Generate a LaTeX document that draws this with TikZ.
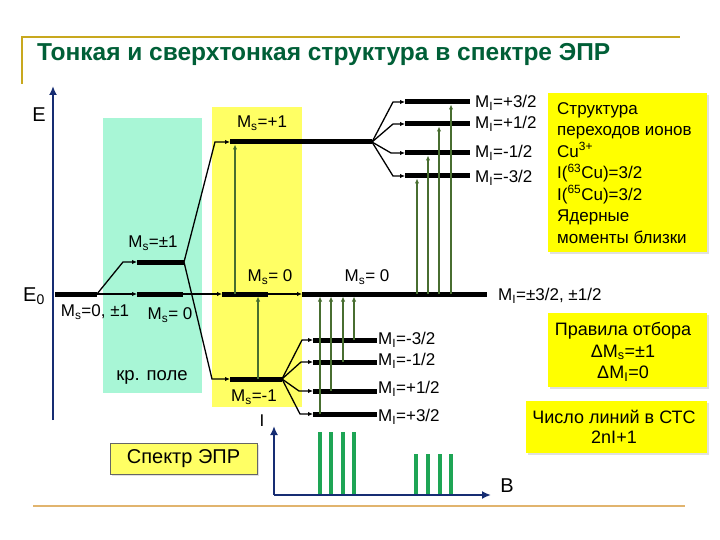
\documentclass[tikz,border=0pt]{standalone}
\usepackage{fontspec}
\setmainfont{Liberation Sans}
\usetikzlibrary{arrows.meta}
\definecolor{titlegreen}{RGB}{0,95,55}
\definecolor{framegold}{RGB}{200,168,30}
\definecolor{frametan}{RGB}{225,180,110}
\definecolor{axisnavy}{RGB}{22,45,115}
\definecolor{arrowgreen}{RGB}{72,110,48}
\definecolor{specgreen}{RGB}{30,165,85}
\definecolor{mint}{RGB}{168,246,214}
\definecolor{paleyellow}{RGB}{255,255,100}
\definecolor{boxyellow}{RGB}{255,255,0}
\newcommand\MsL{M\textsubscript{s}}
\newcommand\MiL{M\textsubscript{I}}
\begin{document}
\begin{tikzpicture}[x=1pt,y=-1pt,
  lvl/.style={line width=5pt},
  conn/.style={line width=1.3pt,-{Latex[length=5pt,width=4.5pt]}},
  garr/.style={line width=1.6pt,draw=arrowgreen,-{Latex[length=5pt,width=4.5pt]}},
  lab/.style={font=\fontsize{17}{19}\selectfont,inner sep=0pt},
  btext/.style={font=\fontsize{17}{21.5}\selectfont,inner sep=0pt},
  ybox/.style={fill=boxyellow,inner sep=0pt},
  shadow/.style={fill=black!12,inner sep=0pt},
  specline/.style={line width=4pt,draw=specgreen},
  axis/.style={line width=2.6pt,draw=axisnavy,-{Latex[length=9pt,width=8pt]}}]
\useasboundingbox (0,0) rectangle (720,540);
\fill[white] (0,0) rectangle (720,540);
% frame
\draw[framegold,line width=2pt] (22,84) -- (22,37) -- (680,37);
\draw[frametan,line width=2.5pt] (33,506) -- (685,506);
\node[anchor=base west,inner sep=0pt,font=\bfseries\fontsize{24.5}{27}\selectfont,text=titlegreen] (title) at (37,61) {Тонкая и сверхтонкая структура в спектре ЭПР};
% background panels
\node[fill=mint,minimum width=99pt,minimum height=275pt,inner sep=0pt] (cpanel) at (152.5,255.5) {};
\node[fill=paleyellow,minimum width=90pt,minimum height=300pt,inner sep=0pt] (ypanel) at (257,257) {};
% energy axis
\coordinate (eaxb) at (53,420);
\coordinate (eaxt) at (53,86);
\draw[axis] (eaxb) -- (eaxt);
\node[font=\fontsize{20}{22}\selectfont,inner sep=0pt] (elab) at (39,115) {E};
\node[font=\fontsize{20}{22}\selectfont,inner sep=0pt] (e0lab) at (34,296) {E\textsubscript{0}};
% level coordinates
\coordinate (e0a) at (55,294); \coordinate (e0b) at (97,294);
\coordinate (pma) at (137,262); \coordinate (pmb) at (184,262);
\coordinate (z1a) at (137,294); \coordinate (z1b) at (183,294);
\coordinate (z2a) at (222,294); \coordinate (z2b) at (268,294);
\coordinate (z3a) at (302,294); \coordinate (z3b) at (487,294);
\coordinate (p1a) at (230,142); \coordinate (p1b) at (372,142);
\coordinate (m1a) at (230,379); \coordinate (m1b) at (282,379);
\coordinate (u1a) at (405,102); \coordinate (u1b) at (470,102);
\coordinate (u2a) at (405,124); \coordinate (u2b) at (470,124);
\coordinate (u3a) at (405,153); \coordinate (u3b) at (470,153);
\coordinate (u4a) at (405,176); \coordinate (u4b) at (470,176);
\coordinate (l1a) at (313,340); \coordinate (l1b) at (377,340);
\coordinate (l2a) at (313,362); \coordinate (l2b) at (377,362);
\coordinate (l3a) at (313,391); \coordinate (l3b) at (377,391);
\coordinate (l4a) at (313,414); \coordinate (l4b) at (377,414);
% bend points
\coordinate (k0) at (123,262);
\coordinate (kp) at (215,142);
\coordinate (km) at (212,379);
\coordinate (ku1) at (393,102); \coordinate (ku2) at (393,124);
\coordinate (ku3) at (391,153); \coordinate (ku4) at (393,176);
\coordinate (kl1) at (302,340); \coordinate (kl2) at (301,362);
\coordinate (kl3) at (299,391); \coordinate (kl4) at (300,414);
% levels
\foreach \a/\b in {e0a/e0b,pma/pmb,z1a/z1b,z2a/z2b,z3a/z3b,p1a/p1b,m1a/m1b,u1a/u1b,u2a/u2b,u3a/u3b,u4a/u4b,l1a/l1b,l2a/l2b,l3a/l3b,l4a/l4b}
  \draw[lvl] (\a) -- (\b);
% connectors
\draw[conn] (e0b) -- (k0) -- (pma);
\draw[conn] (e0b) -- (z1a);
\draw[conn] (z1b) -- (z2a);
\draw[conn] (z2b) -- (z3a);
\draw[conn] (pmb) -- (kp) -- (p1a);
\draw[conn] (pmb) -- (km) -- (m1a);
\foreach \k/\t in {ku1/u1a,ku2/u2a,ku3/u3a,ku4/u4a}
  \draw[conn] (p1b) -- (\k) -- (\t);
\foreach \k/\t in {kl1/l1a,kl2/l2a,kl3/l3a,kl4/l4a}
  \draw[conn] (m1b) -- (\k) -- (\t);
% transitions
\coordinate (ta0) at (235,294); \coordinate (ta1) at (235,144.5);
\coordinate (tb0) at (258,379); \coordinate (tb1) at (258,296.5);
\draw[garr] (ta0) -- (ta1);
\draw[garr] (tb0) -- (tb1);
\foreach \x/\y in {417/176,428/153,439/124,451/102}{
  \coordinate (tu0) at (\x,294); \coordinate (tu1) at (\x,\y+2.5);
  \draw[garr] (tu0) -- (tu1);}
\foreach \x/\y in {320/414,331/391,343/362,354/340}{
  \coordinate (tl0) at (\x,\y); \coordinate (tl1) at (\x,296.5);
  \draw[garr] (tl0) -- (tl1);}
% labels
\node[lab] (lp1) at (262,123) {\MsL=+1};
\node[lab] (lpm) at (153,243) {\MsL=±1};
\node[lab] (lz2) at (270,277) {\MsL= 0};
\node[lab] (lz3) at (367,277) {\MsL= 0};
\node[lab] (lz0) at (95,312) {\MsL=0, ±1};
\node[lab] (lz1) at (170,315) {\MsL= 0};
\node[lab,font=\fontsize{18.5}{21}\selectfont] (lkp) at (152,377) {кр. поле};
\node[lab] (lm1) at (254,397) {\MsL=-1};
\node[lab,anchor=west] (lu1) at (475,103) {\MiL=+3/2};
\node[lab,anchor=west] (lu2) at (475,124) {\MiL=+1/2};
\node[lab,anchor=west] (lu3) at (475,153) {\MiL=-1/2};
\node[lab,anchor=west] (lu4) at (475,178) {\MiL=-3/2};
\node[lab,anchor=west] (ll1) at (378,340) {\MiL=-3/2};
\node[lab,anchor=west] (ll2) at (378,361) {\MiL=-1/2};
\node[lab,anchor=west] (ll3) at (378,389) {\MiL=+1/2};
\node[lab,anchor=west] (ll4) at (378,417) {\MiL=+3/2};
\node[lab,anchor=west] (lz) at (498,296) {\MiL=±3/2, ±1/2};
% text boxes
\node[shadow,minimum width=159pt,minimum height=159pt] (sbsh) at (629.5,174.5) {};
\node[ybox,minimum width=159pt,minimum height=159pt] (sbox) at (627.5,172.5) {};
\node[btext,anchor=north west,align=left] (stext) at (557,102) {Структура\\переходов ионов\\Cu\textsuperscript{3+}\\I(\textsuperscript{63}Cu)=3/2\\I(\textsuperscript{65}Cu)=3/2\\Ядерные\\моменты близки};
\node[shadow,minimum width=159pt,minimum height=74pt] (rbsh) at (629.5,352) {};
\node[ybox,minimum width=159pt,minimum height=74pt] (rbox) at (627.5,350) {};
\node[btext,align=center,font=\fontsize{18}{21.5}\selectfont] (rtext) at (623,352) {Правила отбора\\Δ\MsL=±1\\Δ\MiL=0};
\node[shadow,minimum width=181pt,minimum height=52pt] (nbsh) at (618.5,429) {};
\node[ybox,minimum width=181pt,minimum height=52pt] (nbox) at (616.5,427) {};
\node[btext,align=center,font=\fontsize{18}{20}\selectfont] (ntext) at (614,427) {Число линий в СТС\\2nI+1};
\node[shadow,minimum width=147pt,minimum height=31pt] (spsh) at (185.5,460.5) {};
\node[fill=paleyellow,draw=black!60,line width=0.6pt,minimum width=147pt,minimum height=31pt,inner sep=0pt,font=\fontsize{20}{22}\selectfont] (spbox) at (183.5,458.5) {Спектр ЭПР};
% spectrum
\coordinate (so) at (274,495);
\coordinate (st) at (274,426);
\coordinate (sr) at (491,495);
\draw[axis,line width=2.4pt] (so) -- (st);
\draw[axis,line width=2.4pt] (so) -- (sr);
\node[lab,font=\fontsize{17}{20}\selectfont] (ilab) at (262,421) {I};
\node[lab,font=\fontsize{20}{22}\selectfont] (blab) at (507,486) {B};
\foreach \x in {320,331,343,354}{
  \coordinate (sa) at (\x,493.5); \coordinate (sb) at (\x,432);
  \draw[specline] (sa) -- (sb);}
\foreach \x in {416,428,440,451}{
  \coordinate (sa) at (\x,493.5); \coordinate (sb) at (\x,454);
  \draw[specline] (sa) -- (sb);}
\end{tikzpicture}
\end{document}
